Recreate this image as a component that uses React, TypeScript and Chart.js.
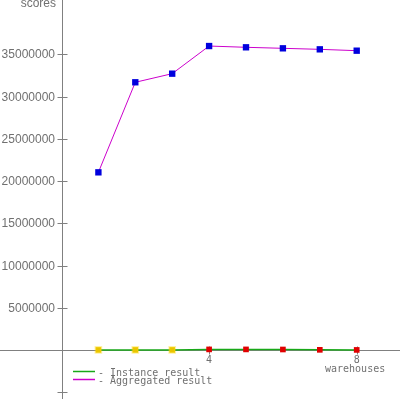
import React, { useEffect, useRef } from "react";
import { Chart, registerables } from "chart.js";

Chart.register(...registerables);

const warehouses = [1, 2, 3, 4, 5, 6, 7, 8];
const aggregatedResult = [21030000, 31690000, 32710000, 35980000, 35830000, 35710000, 35590000, 35430000];
const instanceResult = [10000, 10000, 10000, 70000, 70000, 60000, 20000, 10000];
const countedPoint = [false, false, false, true, true, true, true, true];
const yTickValues = [5000000, 10000000, 15000000, 20000000, 25000000, 30000000, 35000000];
const yExtraTicks = [-5000000];
const xTickValues = [4, 8];
const yAxisTitle = "scores";
const xAxisTitle = "warehouses";
const seriesNames = ["Instance result", "Aggregated result"];

const AXIS_COLOR = "#808080";
const TEXT_COLOR = "#707070";
const GREEN = "#18a818";
const MAGENTA = "#cc00cc";

const axesPlugin = {
  id: "customAxes",
  beforeDatasetsDraw(chart: any) {
    const { ctx, scales } = chart;
    const xs = scales.x;
    const ys = scales.y;
    const x0 = Math.round(xs.getPixelForValue(0)) + 0.5;
    const y0 = Math.round(ys.getPixelForValue(0)) + 0.5;
    ctx.save();
    ctx.strokeStyle = AXIS_COLOR;
    ctx.lineWidth = 1;
    ctx.beginPath();
    ctx.moveTo(0, y0);
    ctx.lineTo(400, y0);
    ctx.moveTo(x0, 0);
    ctx.lineTo(x0, 399);
    [...yTickValues, ...yExtraTicks].forEach((v) => {
      const py = Math.round(ys.getPixelForValue(v)) + 0.5;
      ctx.moveTo(x0 - 5, py);
      ctx.lineTo(x0 + 5, py);
    });
    xTickValues.forEach((v) => {
      const px = Math.round(xs.getPixelForValue(v)) + 0.5;
      ctx.moveTo(px, y0 - 4);
      ctx.lineTo(px, y0 + 4);
    });
    ctx.stroke();

    ctx.fillStyle = TEXT_COLOR;
    ctx.font = "12px 'Liberation Sans', Arial, sans-serif";
    ctx.textAlign = "right";
    ctx.textBaseline = "alphabetic";
    yTickValues.forEach((v) => {
      const py = ys.getPixelForValue(v);
      ctx.fillText(String(v), 55, py + 4);
    });
    ctx.fillText(yAxisTitle, 56, 7);

    ctx.font = "10px 'DejaVu Sans Mono', monospace";
    ctx.textAlign = "center";
    xTickValues.forEach((v) => {
      const px = xs.getPixelForValue(v);
      ctx.fillText(String(v), px, 363);
    });
    ctx.textAlign = "left";
    ctx.fillText(xAxisTitle, 325, 372);

    // legend
    const legendColors = [GREEN, MAGENTA];
    seriesNames.forEach((name, i) => {
      const ly = 371 + i * 8;
      ctx.strokeStyle = legendColors[i];
      ctx.lineWidth = 1.5;
      ctx.beginPath();
      ctx.moveTo(73, ly + 0.5);
      ctx.lineTo(95, ly + 0.5);
      ctx.stroke();
      ctx.fillStyle = TEXT_COLOR;
      ctx.fillText("- " + name, 98, ly + 5);
    });
    ctx.restore();
  },
};

export default function App() {
  const ref = useRef<HTMLCanvasElement | null>(null);
  useEffect(() => {
    if (!ref.current) return;
    const pxPerUnitX = 36.9;
    const zeroX = 61.5;
    const pxPerMillion = 8.448;
    const zeroY = 350;
    const chart = new Chart(ref.current, {
      type: "line",
      data: {
        datasets: [
          {
            label: seriesNames[0],
            data: warehouses.map((w, i) => ({ x: w, y: instanceResult[i] })),
            borderColor: GREEN,
            borderWidth: 1.5,
            pointStyle: "rect",
            pointRadius: 4,
            pointBorderWidth: countedPoint.map((c) => (c ? 0 : 2)),
            pointBorderColor: countedPoint.map((c) => (c ? "#e00000" : "rgba(255,215,0,0.35)")),
            pointBackgroundColor: countedPoint.map((c) => (c ? "#e00000" : "#e8c400")),
          },
          {
            label: seriesNames[1],
            data: warehouses.map((w, i) => ({ x: w, y: aggregatedResult[i] })),
            borderColor: MAGENTA,
            borderWidth: 1,
            pointStyle: "rect",
            pointRadius: 4.5,
            pointBorderWidth: 0,
            pointBackgroundColor: "#0000dd",
            pointBorderColor: "#0000dd",
          },
        ],
      },
      options: {
        animation: false,
        responsive: false,
        events: [],
        layout: { padding: 0, autoPadding: false },
        plugins: { legend: { display: false }, tooltip: { enabled: false } },
        scales: {
          x: {
            type: "linear",
            display: false,
            min: -zeroX / pxPerUnitX,
            max: (400 - zeroX) / pxPerUnitX,
          },
          y: {
            type: "linear",
            display: false,
            min: (-(400 - zeroY) / pxPerMillion) * 1e6,
            max: (zeroY / pxPerMillion) * 1e6,
          },
        },
      },
      plugins: [axesPlugin],
    });
    return () => chart.destroy();
  }, []);
  return (
    <div style={{ position: "fixed", left: 0, top: 0, width: 400, height: 400, background: "#fff" }}>
      <canvas ref={ref} width={400} height={400} />
    </div>
  );
}
